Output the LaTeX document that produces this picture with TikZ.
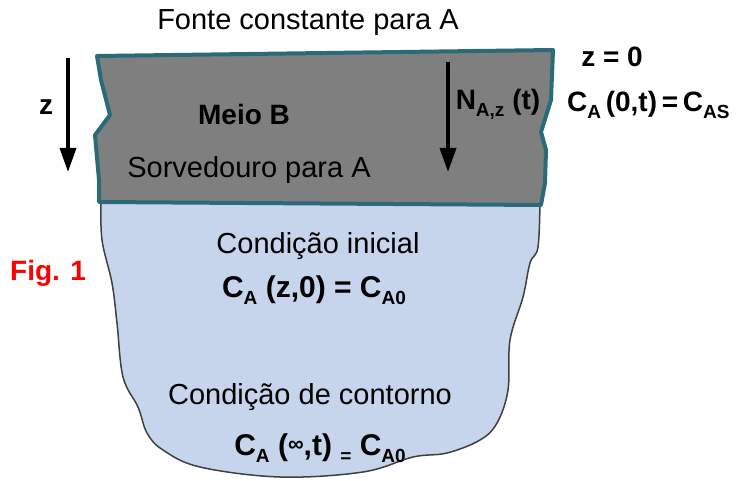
\documentclass[tikz,border=0pt]{standalone}
\usepackage{fontspec}
\setmainfont{Liberation Sans}
\usetikzlibrary{arrows.meta}
\definecolor{meiogray}{HTML}{7F7F7F}
\definecolor{meioedge}{HTML}{2B6A79}
\definecolor{soloblue}{HTML}{C6D4EC}
\definecolor{soloedge}{HTML}{404040}
\definecolor{figred}{HTML}{FF0000}
\newcommand{\lowsub}[1]{\raisebox{-7pt}{\fontsize{19}{19}\selectfont #1}}
\newcommand{\smallinf}{\raisebox{4pt}{\fontsize{22}{22}\selectfont ∞}}
\tikzset{
  txt/.style={inner sep=0pt, anchor=base, font=\fontsize{29}{31}\selectfont},
  btxt/.style={txt, font=\fontsize{28}{30}\selectfont\bfseries},
  ctxt/.style={txt, font=\fontsize{30}{32}\selectfont\bfseries},
  zarrow/.style={line width=3.5pt, -{Triangle[length=24pt,width=16pt]}},
}
\begin{document}
\begin{tikzpicture}[x=1pt, y=-1pt]
\useasboundingbox (0,0) rectangle (746,481);
\draw [soloedge, fill=soloblue, line width=1.5pt] plot [smooth, tension=0.6] coordinates {(540,200) (538,247) (530,263) (523,297) (510,340) (508,390) (497,423) (480,440) (447,453) (413,457) (363,472) (280,477) (200,467) (163,450) (147,433) (138,407) (123,377) (117,323) (112,283) (102,240) (101,200)} -- cycle;
\draw [meioedge, fill=meiogray, line width=4pt, line join=round] (97,56) -- (553,50) -- (551,100) -- (541,132) -- (546,150) -- (545,183) -- (541,205) -- (99,202) -- (99,180) -- (95,135) -- (110,115) -- (101,80) -- cycle;

\node [txt] (fonte) at (308,30) {Fonte constante para A};
\node [btxt] (meio) at (244,125) {Meio B};
\node [txt] (sorv) at (249,178) {Sorvedouro para A};
\node [txt] (inicial) at (318,253) {Condição inicial};
\node [ctxt] (cinicial) at (314,297) {C\lowsub{A} (z,0) = C\lowsub{A0}};
\node [txt] (contorno) at (310,404) {Condição de contorno};
\node [ctxt] (ccontorno) at (320,455) {C\lowsub{A} (\smallinf,t) \lowsub{=} C\lowsub{A0}};
\node [btxt] (zlabel) at (46,115) {z};
\node [btxt] (zzero) at (612,67) {z = 0};
\node [btxt, anchor=base west] (csup) at (567,112) {C\lowsub{A}\,(0,t)\,=\,C\lowsub{AS}};
\node [btxt] (fluxo) at (498,110) {N\lowsub{A,z} (t)};
\node [btxt, figred] (fig) at (48,280) {Fig. 1};

\coordinate (ztop) at (68,58);
\coordinate (zbot) at (68,172);
\coordinate (ntop) at (448,62);
\coordinate (nbot) at (448,172);
\draw [zarrow] (ztop) -- (zbot);
\draw [zarrow] (ntop) -- (nbot);
\end{tikzpicture}
\end{document}
